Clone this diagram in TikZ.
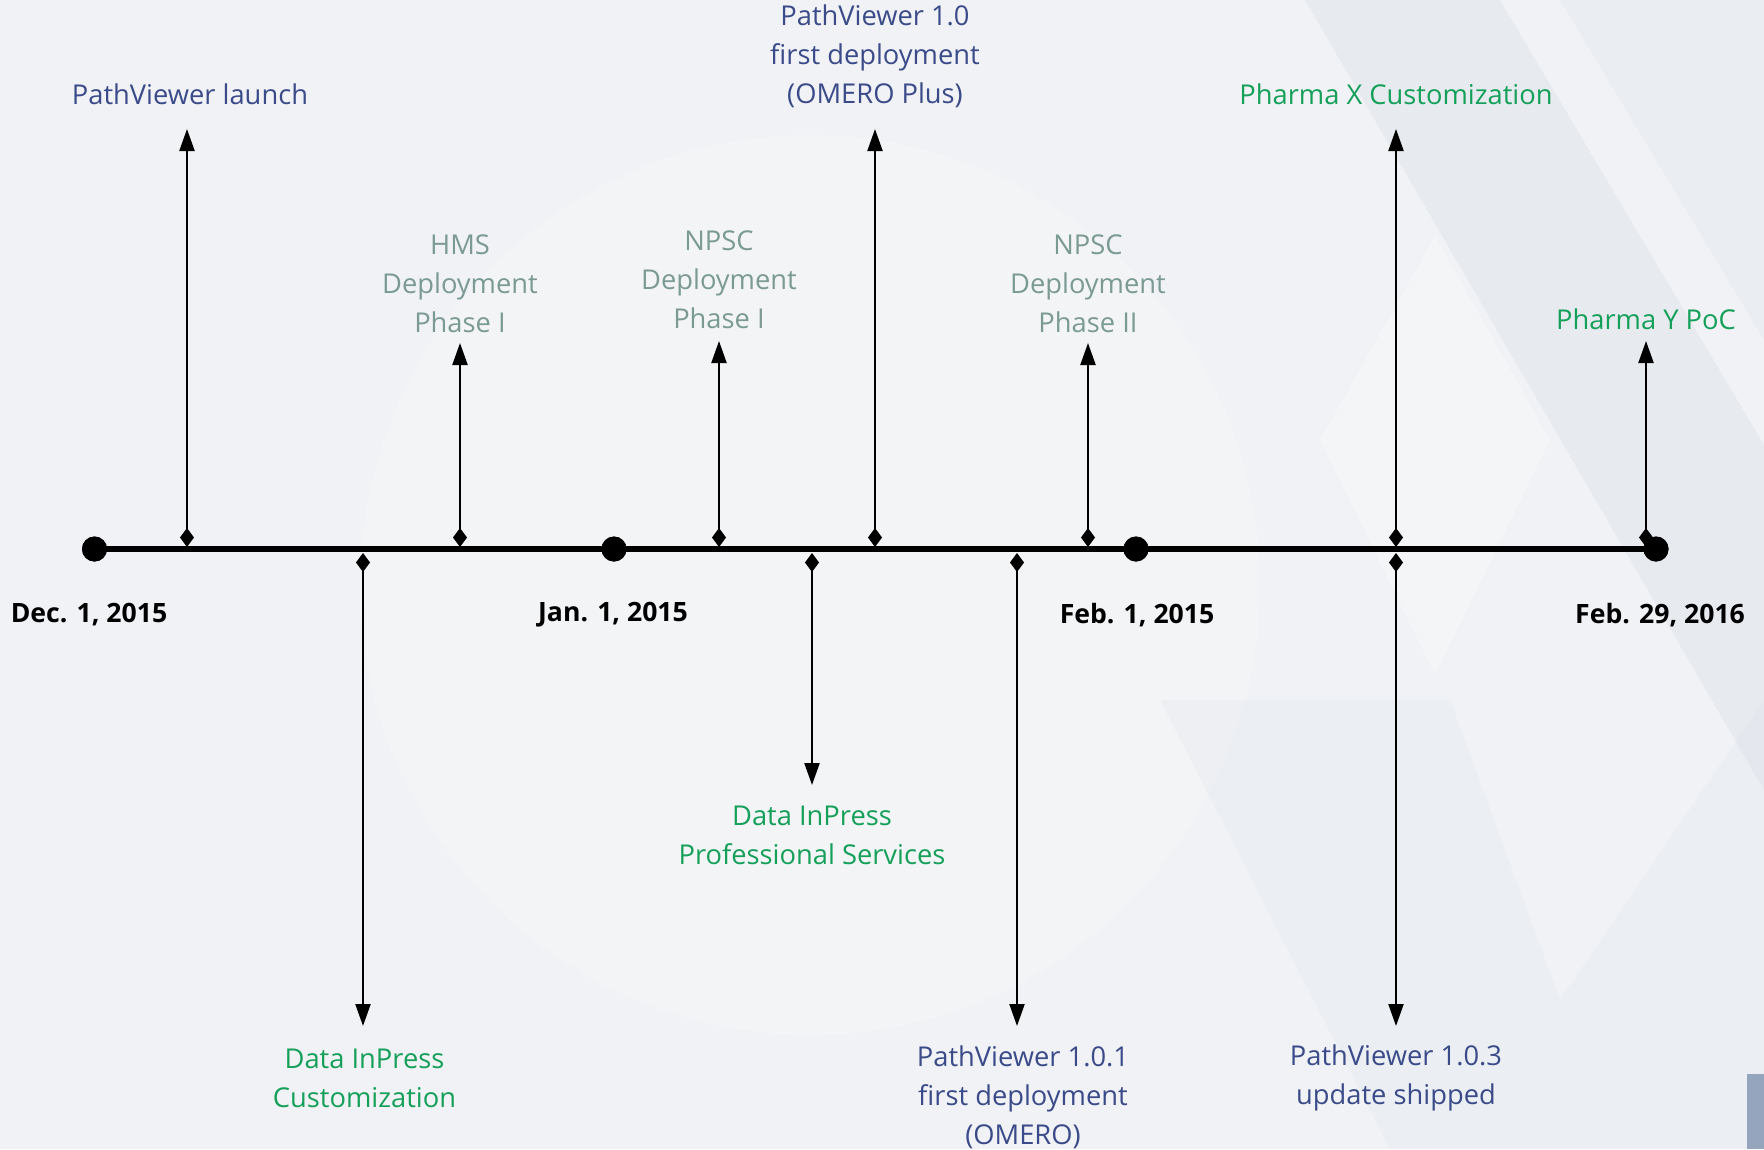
\documentclass[tikz,border=0pt]{standalone}
\usepackage{fontspec}
\setmainfont{Open Sans}
\usetikzlibrary{arrows.meta}
\definecolor{bgc}{HTML}{F1F2F5}
\definecolor{bandc}{HTML}{DCE3EA}
\definecolor{pvblue}{HTML}{3B4B8A}
\definecolor{greyg}{HTML}{7B9A93}
\definecolor{grn}{HTML}{15A05A}
\definecolor{cornerc}{HTML}{94A5BD}
\begin{document}
\begin{tikzpicture}[x=1pt,y=-1pt,
  evt/.style={line width=2.2pt, {Diamond[length=19pt,width=14pt]}-{Triangle[length=22pt,width=15pt]}},
  lbl/.style={align=center, font=\fontsize{27.3}{39}\selectfont, inner sep=0pt},
  blu/.style={lbl, text=pvblue},
  gry/.style={lbl, text=greyg},
  gre/.style={lbl, text=grn},
  datelbl/.style={font=\fontsize{26.6}{30}\selectfont\bfseries, inner sep=0pt},
  dotnode/.style={circle, fill=black, minimum size=25pt, inner sep=0pt},
  axis/.style={line width=5.5pt}
]
\fill[bgc] (0,0) rectangle (1764,1149);
\useasboundingbox (0,0) rectangle (1764,1149);
% faint background shapes
\fill[white, opacity=0.18] (810,585) circle[radius=450];
\fill[bandc, opacity=0.45] (1305,0) -- (1500,0) -- (1764,445) -- (1764,790) -- cycle;
\fill[bandc, opacity=0.3] (1560,0) -- (1764,0) -- (1764,340) -- cycle;
\fill[white, opacity=0.25] (1435,236) -- (1550,440) -- (1435,675) -- (1320,440) -- cycle;
\fill[bandc, opacity=0.25] (1160,700) -- (1390,1149) -- (1764,1149) -- (1764,700) -- (1560,1000) -- (1450,700) -- cycle;
\fill[cornerc] (1747,1074) rectangle (1764,1149);

% timeline
\node[dotnode] (d0) at (94.5,549) {};
\node[dotnode] (d1) at (614,549) {};
\node[dotnode] (d2) at (1136,549) {};
\node[dotnode] (d3) at (1656,549) {};
\draw[axis] (d0.center) -- (d3.center);
\node[dotnode] at (d0) {};
\node[dotnode] at (d1) {};
\node[dotnode] at (d2) {};
\node[dotnode] at (d3) {};

\node[datelbl] (t0) at (89,615) {Dec. 1, 2015};
\node[datelbl] (t1) at (613,615) {Jan. 1, 2015};
\node[datelbl] (t2) at (1137,615) {Feb. 1, 2015};
\node[datelbl] (t3) at (1660,615) {Feb. 29, 2016};

% up events
\coordinate (u1) at (187,547);   \coordinate (u1t) at (187,129);
\coordinate (u2) at (460,547);   \coordinate (u2t) at (460,343);
\coordinate (u3) at (719,547);   \coordinate (u3t) at (719,341);
\coordinate (u4) at (875,547);   \coordinate (u4t) at (875,129);
\coordinate (u5) at (1088,547);  \coordinate (u5t) at (1088,343);
\coordinate (u6) at (1396,547);  \coordinate (u6t) at (1396,129);
\coordinate (u7) at (1646,547);  \coordinate (u7t) at (1646,341);
\foreach \i in {1,...,7} {\draw[evt] (u\i) -- (u\i t);}

\node[blu] (l1) at (190,94.5) {PathViewer launch};
\node[gry] (l2) at (460,283.5) {HMS\\Deployment\\Phase I};
\node[gry] (l3) at (719,280) {NPSC\\Deployment\\Phase I};
\node[blu] (l4) at (875,56) {PathViewer 1.0\\first deployment\\(OMERO Plus)};
\node[gry] (l5) at (1088,283.5) {NPSC\\Deployment\\Phase II};
\node[gre] (l6) at (1396,94.5) {Pharma X Customization};
\node[gre] (l7) at (1646,319.5) {Pharma Y PoC};

% down events
\coordinate (w1) at (363,553);   \coordinate (w1t) at (363,1026);
\coordinate (w2) at (812,553);   \coordinate (w2t) at (812,785);
\coordinate (w3) at (1017,553);  \coordinate (w3t) at (1017,1026);
\coordinate (w4) at (1396,553);  \coordinate (w4t) at (1396,1026);
\foreach \i in {1,...,4} {\draw[evt] (w\i) -- (w\i t);}

\node[gre] (m1) at (364.5,1078) {Data InPress\\Customization};
\node[gre] (m2) at (812,835) {Data InPress\\Professional Services};
\node[blu] (m3) at (1023,1097) {PathViewer 1.0.1\\first deployment\\(OMERO)};
\node[blu] (m4) at (1396,1078) {PathViewer 1.0.3\\update shipped};
\end{tikzpicture}
\end{document}
